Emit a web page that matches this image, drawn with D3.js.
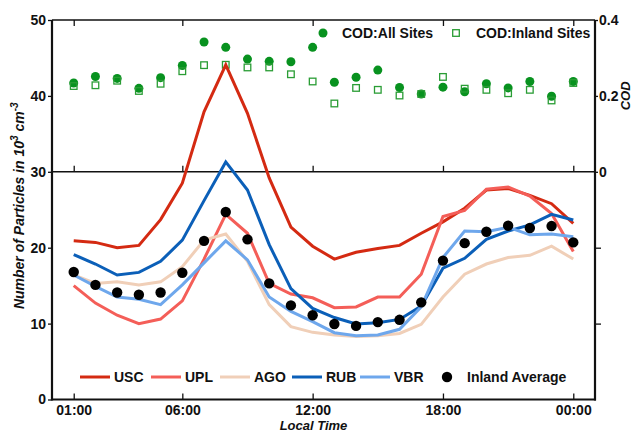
<!DOCTYPE html>
<html>
<head>
<meta charset="utf-8">
<script src="https://cdn.jsdelivr.net/npm/d3@7"></script>
<style>
  body { margin: 0; background: #fff; }
  svg { font-family: 'Liberation Sans', Arial, sans-serif; font-weight: bold; }
  .tick text { font-size: 14px; font-weight: bold; fill: #111; }
</style>
</head>
<body>
<svg id="chart" width="634" height="433"></svg>
<script>
const hours = d3.range(1, 25);
const hourTicks = [1, 6, 12, 18, 24];
const hourLabels = ['01:00', '06:00', '12:00', '18:00', '00:00'];

const usc = [20.9, 20.7, 20.0, 20.3, 23.7, 28.5, 37.9, 44.1, 37.7, 29.2, 22.7, 20.2, 18.5, 19.4, 19.9, 20.3, 21.9, 23.4, 25.2, 27.6, 27.8, 26.9, 25.8, 23.2];
const upl = [15.0, 12.7, 11.1, 10.0, 10.6, 13.0, 18.5, 24.4, 21.9, 15.3, 13.9, 13.4, 12.1, 12.2, 13.5, 13.5, 16.5, 24.1, 24.9, 27.7, 28.0, 26.8, 24.5, 19.5];
const ago = [16.4, 15.3, 15.5, 15.1, 15.5, 17.5, 21.0, 21.8, 18.2, 12.5, 9.6, 8.85, 8.5, 8.3, 8.4, 8.7, 9.9, 13.5, 16.5, 17.85, 18.7, 19.0, 20.2, 18.5];
const rub = [19.1, 17.85, 16.4, 16.75, 18.2, 21.0, 26.2, 31.3, 27.6, 20.4, 14.6, 12.0, 10.8, 9.95, 10.1, 10.55, 12.3, 17.3, 18.6, 21.1, 22.2, 23.0, 24.4, 23.65];
const vbr = [16.4, 14.9, 13.5, 13.2, 12.5, 15.1, 18.0, 20.9, 18.4, 13.5, 11.6, 10.25, 8.8, 8.4, 8.5, 9.25, 12.2, 18.7, 22.2, 22.1, 22.7, 21.7, 21.8, 21.45];
const inlandAvg = [16.8, 15.1, 14.1, 13.8, 14.1, 16.7, 20.9, 24.7, 21.1, 15.3, 12.4, 11.1, 9.95, 9.7, 10.2, 10.5, 12.8, 18.3, 20.6, 22.1, 22.9, 22.6, 22.85, 20.7];

const codAll = [0.234, 0.251, 0.246, 0.220, 0.248, 0.280, 0.342, 0.328, 0.297, 0.291, 0.290, 0.328, 0.236, 0.249, 0.268, 0.222, 0.205, 0.223, 0.211, 0.232, 0.221, 0.238, 0.199, 0.238];
const codInland = [0.226, 0.228, 0.240, 0.213, 0.232, 0.265, 0.281, 0.282, 0.275, 0.275, 0.257, 0.238, 0.180, 0.221, 0.216, 0.201, 0.205, 0.250, 0.219, 0.216, 0.207, 0.216, 0.188, 0.234];

const sites = [
    { name: 'USC', values: usc, color: '#d42a12' },
    { name: 'UPL', values: upl, color: '#f45e58' },
    { name: 'AGO', values: ago, color: '#f0cfb8' },
    { name: 'RUB', values: rub, color: '#0b5fb8' },
    { name: 'VBR', values: vbr, color: '#6ea7ec' },
];
const green = '#08921f';

const svg = d3.select('#chart');
const mLeft = 52, mRight = 595, mTop = 20, mBottom = 399.5;

const x = d3.scaleLinear().domain([0, 25]).range([mLeft, mRight]);
const y = d3.scaleLinear().domain([0, 50]).range([mBottom, mTop]);
const yc = d3.scaleLinear().domain([0, 0.4]).range([y(30), y(50)]);

// axes
const gx = svg.append('g')
    .attr('transform', `translate(0,${mBottom})`)
    .call(d3.axisBottom(x).tickValues(hourTicks).tickFormat((d, i) => hourLabels[i]).tickSizeInner(-6).tickSizeOuter(0).tickPadding(5.5));
const gxTop = svg.append('g')
    .attr('transform', `translate(0,${mTop})`)
    .call(d3.axisTop(x).tickValues(hourTicks).tickFormat('').tickSizeInner(-6).tickSizeOuter(0));
const gxMid = svg.append('g')
    .attr('transform', `translate(0,${y(30)})`)
    .call(d3.axisBottom(x).tickValues(hourTicks).tickFormat('').tickSizeInner(-6).tickSizeOuter(0));
const gy = svg.append('g')
    .attr('transform', `translate(${mLeft},0)`)
    .call(d3.axisLeft(y).tickValues([0, 10, 20, 30, 40, 50]).tickSizeInner(4).tickSizeOuter(0).tickPadding(2));
const gyR = svg.append('g')
    .attr('transform', `translate(${mRight},0)`)
    .call(d3.axisLeft(y).tickValues([10, 20]).tickFormat('').tickSizeInner(-6).tickSizeOuter(0));
const gc = svg.append('g')
    .attr('transform', `translate(${mRight},0)`)
    .call(d3.axisRight(yc).tickValues([0, 0.2, 0.4]).tickFormat(d => d === 0 ? '0' : d3.format('.1f')(d)).tickSizeInner(3).tickSizeOuter(0).tickPadding(1));

[gx, gxTop, gxMid, gy, gyR, gc].forEach(g => {
    g.select('.domain').remove();
    g.selectAll('.tick line').attr('stroke', '#111').attr('stroke-width', 1.3);
});

// frame
svg.append('line').attr('x1', mLeft).attr('x2', mRight).attr('y1', mTop).attr('y2', mTop).attr('stroke', '#111').attr('stroke-width', 1.5);
svg.append('line').attr('x1', mLeft).attr('x2', mRight).attr('y1', y(30)).attr('y2', y(30)).attr('stroke', '#111').attr('stroke-width', 1.5);
svg.append('line').attr('x1', mLeft).attr('x2', mRight + 1).attr('y1', mBottom).attr('y2', mBottom).attr('stroke', '#111').attr('stroke-width', 2.2);
svg.append('line').attr('x1', mLeft).attr('x2', mLeft).attr('y1', mTop).attr('y2', mBottom + 1).attr('stroke', '#111').attr('stroke-width', 2.2);
svg.append('line').attr('x1', mRight).attr('x2', mRight).attr('y1', mTop).attr('y2', mBottom + 1).attr('stroke', '#111').attr('stroke-width', 2.2);

// COD markers
svg.append('g').selectAll('circle')
    .data(codAll)
    .enter().append('circle')
    .attr('cx', (d, i) => x(hours[i]))
    .attr('cy', d => yc(d))
    .attr('r', 4.5)
    .attr('fill', green);
svg.append('g').selectAll('rect')
    .data(codInland)
    .enter().append('rect')
    .attr('x', (d, i) => x(hours[i]) - 3.3)
    .attr('y', d => yc(d) - 3.3)
    .attr('width', 6.6)
    .attr('height', 6.6)
    .attr('fill', 'none')
    .attr('stroke', '#2a9d35')
    .attr('stroke-width', 1.3);

// site lines
const line = d3.line().x((d, i) => x(hours[i])).y(d => y(d));
svg.append('g').selectAll('path')
    .data(sites)
    .enter().append('path')
    .attr('d', d => line(d.values))
    .attr('fill', 'none')
    .attr('stroke', d => d.color)
    .attr('stroke-width', 3)
    .attr('stroke-linejoin', 'miter');

svg.append('g').selectAll('circle')
    .data(inlandAvg)
    .enter().append('circle')
    .attr('cx', (d, i) => x(hours[i]))
    .attr('cy', d => y(d))
    .attr('r', 5.2)
    .attr('fill', '#000');

// bottom legend
const legY = 377;
const legPos = [80, 151, 220, 292, 360];
const leg = svg.append('g');
sites.forEach((s, i) => {
    leg.append('line')
        .attr('x1', legPos[i]).attr('x2', legPos[i] + 30)
        .attr('y1', legY).attr('y2', legY)
        .attr('stroke', s.color).attr('stroke-width', 3);
    leg.append('text')
        .attr('x', legPos[i] + 34).attr('y', legY + 5)
        .style('font-size', '14px').attr('fill', '#111')
        .text(s.name);
});
leg.append('circle').attr('cx', 447).attr('cy', legY).attr('r', 5.2).attr('fill', '#000');
leg.append('text').attr('x', 467).attr('y', legY + 5).style('font-size', '14px').attr('fill', '#111').text('Inland Average');

// top legend
svg.append('circle').attr('cx', 323).attr('cy', 33).attr('r', 4.5).attr('fill', green);
svg.append('text').attr('x', 342).attr('y', 38).style('font-size', '14px').attr('fill', '#111').text('COD:All Sites');
svg.append('rect').attr('x', 452.7).attr('y', 29.7).attr('width', 6.6).attr('height', 6.6)
    .attr('fill', 'none').attr('stroke', '#2a9d35').attr('stroke-width', 1.3);
svg.append('text').attr('x', 476).attr('y', 38).style('font-size', '14px').attr('fill', '#111').text('COD:Inland Sites');

// axis titles
svg.append('text')
    .attr('x', (mLeft + mRight) / 2 - 10).attr('y', 430)
    .attr('text-anchor', 'middle')
    .style('font-size', '13px').style('font-style', 'italic').attr('fill', '#111')
    .text('Local Time');

const yl = svg.append('text')
    .attr('transform', `translate(24,${(mTop + mBottom) / 2 - 4}) rotate(-90)`)
    .attr('text-anchor', 'middle')
    .style('font-size', '14px').style('font-style', 'italic').attr('fill', '#111');
yl.append('tspan').text('Number of Particles  in 10');
yl.append('tspan').attr('dy', -6).style('font-size', '10px').text('3');
yl.append('tspan').attr('dy', 6).text(' cm');
yl.append('tspan').attr('dy', -6).style('font-size', '10px').text('-3');

svg.append('text')
    .attr('transform', `translate(630,${yc(0.2)}) rotate(-90)`)
    .attr('text-anchor', 'middle')
    .style('font-size', '13px').style('font-style', 'italic').attr('fill', '#111')
    .text('COD');
</script>
</body>
</html>
